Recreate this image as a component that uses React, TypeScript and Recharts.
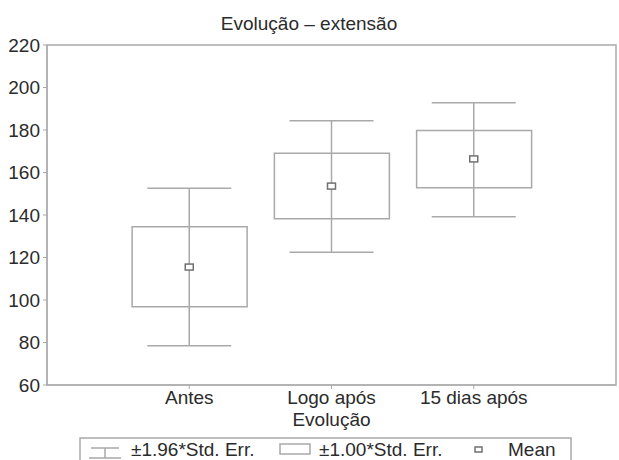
import React from 'react'
import { Bar, ComposedChart, ErrorBar, Label, ReferenceArea, Scatter, XAxis, YAxis } from 'recharts'

// valores (Statistica: média ± 1.00 / 1.96 erro padrão)
const categories = ['Antes', 'Logo após', '15 dias após']
const positions = [1, 2, 3]
const means = [115.5, 153.6, 166.4]
const boxLow = [96.8, 138.2, 152.8]
const boxHigh = [134.5, 169.1, 179.8]
const whiskerLow = [78.5, 122.5, 139.2]
const whiskerHigh = [152.6, 184.3, 192.8]
const yTicks = [60, 80, 100, 120, 140, 160, 180, 200, 220]

const FONT = '"Liberation Sans", Arial, sans-serif'
const TEXT = '#2b2b2b'
const LINE = '#a9a9a9'

const rows = categories.map((name, i) => ({
  name,
  x: positions[i],
  mean: means[i],
  box: [boxLow[i], boxHigh[i]],
  whisker: [means[i] - whiskerLow[i], whiskerHigh[i] - means[i]],
}))

const MeanMarker = (props: any) => (
  <rect
    x={props.cx - 4}
    y={props.cy - 3}
    width={8}
    height={6}
    fill="#fff"
    stroke="#707070"
    strokeWidth={1.5}
  />
)

export default function App() {
  return (
    <div style={{ position: 'absolute', left: 0, top: 0, width: 619, height: 460, background: '#fff', fontFamily: FONT }}>
      <ComposedChart
        width={619}
        height={460}
        data={rows}
        margin={{ top: 45, right: 3, bottom: 20, left: 0 }}
      >
        <XAxis
          dataKey="x"
          type="number"
          domain={[0, 4]}
          ticks={positions}
          allowDataOverflow
          tickFormatter={(v: number) => categories[positions.indexOf(v)]}
          tick={{ fontSize: 19, fill: TEXT, fontFamily: FONT }}
          tickSize={4}
          tickMargin={2}
          height={55}
          stroke={LINE}
        >
          <Label value="Evolução" position="insideBottom" offset={14} fill={TEXT} fontSize={19} fontFamily={FONT} />
        </XAxis>
        <YAxis
          type="number"
          domain={[60, 220]}
          ticks={yTicks}
          allowDataOverflow
          tick={{ fontSize: 19, fill: TEXT, fontFamily: FONT }}
          tickSize={4}
          tickMargin={3}
          width={47}
          stroke={LINE}
        />
        <ReferenceArea x1={0} x2={4} y1={60} y2={220} fill="none" stroke={LINE} strokeWidth={1.5} ifOverflow="visible" />
        {/* ±1.96 erro padrão */}
        <Scatter dataKey="mean" shape={() => <g />} isAnimationActive={false}>
          <ErrorBar dataKey="whisker" direction="y" width={42} stroke={LINE} strokeWidth={1.5} isAnimationActive={false} />
        </Scatter>
        {/* ±1.00 erro padrão */}
        <Bar dataKey="box" barSize={115} fill="#fff" stroke={LINE} strokeWidth={1.5} isAnimationActive={false} />
        <Scatter dataKey="mean" shape={MeanMarker} isAnimationActive={false} />
      </ComposedChart>

      <svg
        width={619}
        height={460}
        style={{ position: 'absolute', left: 0, top: 0, pointerEvents: 'none' }}
        fontFamily={FONT}
      >
        <text x={309} y={30} textAnchor="middle" fontSize={19} fill={TEXT}>
          Evolução – extensão
        </text>
        <rect x={80} y={438} width={491} height={40} fill="none" stroke={LINE} strokeWidth={1.5} />
        <g stroke={LINE} strokeWidth={1.5} fill="none">
          <line x1={91} y1={448} x2={119} y2={448} />
          <line x1={105} y1={448} x2={105} y2={458} />
          <line x1={89} y1={458} x2={121} y2={458} />
          <rect x={280} y={444} width={30} height={10} />
        </g>
        <rect x={475} y={447} width={7} height={5} fill="#fff" stroke="#707070" strokeWidth={1.5} />
        <g fontSize={19} fill={TEXT}>
          <text x={131} y={456}>±1.96*Std. Err.</text>
          <text x={319} y={456}>±1.00*Std. Err.</text>
          <text x={508} y={456}>Mean</text>
        </g>
      </svg>
    </div>
  )
}
